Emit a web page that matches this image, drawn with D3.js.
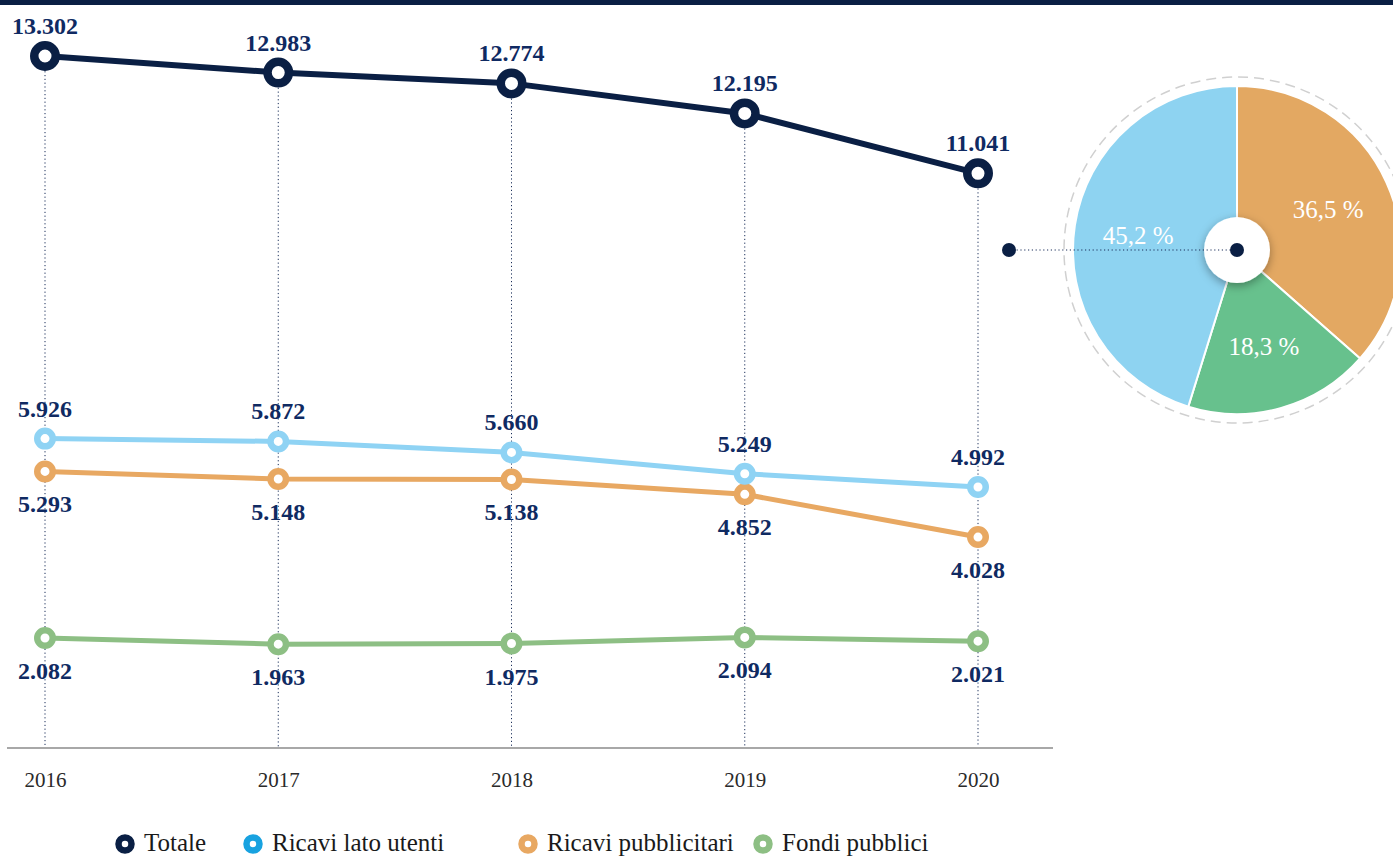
<!DOCTYPE html>
<html>
<head>
<meta charset="utf-8">
<script src="https://cdn.jsdelivr.net/npm/d3@7"></script>
<style>
body { margin: 0; background: #fff; }
svg { display: block; }
</style>
</head>
<body>
<svg id="chart" width="1393" height="857"></svg>
<script>
var years = ["2016", "2017", "2018", "2019", "2020"];
var totale = [13302, 12983, 12774, 12195, 11041];
var ricaviUtenti = [5926, 5872, 5660, 5249, 4992];
var ricaviPubblicita = [5293, 5148, 5138, 4852, 4028];
var fondiPubblici = [2082, 1963, 1975, 2094, 2021];

var pieLabels = ["Ricavi pubblicitari", "Fondi pubblici", "Ricavi lato utenti"];
var pieValues = [36.5, 18.3, 45.2];
var pieColors = ["#e3a862", "#67c18d", "#8ed3f1"];

var navy = "#0a1f44";
var labelColor = "#0f2a62";
var fmt = d3.format(",");
var fmtIt = function(v) { return fmt(v).replace(/,/g, "."); };

var series = [
	{ name: "Totale", values: totale, color: navy, legend: navy, width: 6, r: 10.75, ring: 8.5, labelPos: "above" },
	{ name: "Ricavi lato utenti", values: ricaviUtenti, color: "#8fd3f4", legend: "#18a2e0", width: 5, r: 7.75, ring: 6.5, labelPos: "above" },
	{ name: "Ricavi pubblicitari", values: ricaviPubblicita, color: "#e8a862", legend: "#e8a862", width: 5, r: 7.75, ring: 6.5, labelPos: "below" },
	{ name: "Fondi pubblici", values: fondiPubblici, color: "#8dbf84", legend: "#8dbf84", width: 5, r: 7.75, ring: 6.5, labelPos: "below" }
];

var svg = d3.select("#chart");
var serif = "'Liberation Serif', 'DejaVu Serif', serif";

// top band
svg.append("rect").attr("x", 0).attr("y", 0).attr("width", 1393).attr("height", 5).attr("fill", navy);

var x = d3.scalePoint().domain(years).range([45, 978]);
var y = d3.scaleLinear().domain([0, 13302]).range([746, 56]);

// vertical dotted guides
svg.append("g").selectAll("line")
	.data(years)
	.join("line")
	.attr("x1", function(d) { return x(d); })
	.attr("x2", function(d) { return x(d); })
	.attr("y1", function(d, i) { return y(totale[i]); })
	.attr("y2", 748)
	.attr("stroke", "#1b2f5a")
	.attr("stroke-width", 1)
	.attr("stroke-dasharray", "1.2,2.6");

// x axis line
svg.append("line")
	.attr("x1", 7).attr("x2", 1053)
	.attr("y1", 748).attr("y2", 748)
	.attr("stroke", "#a8a8a8").attr("stroke-width", 2);

var xAxis = svg.append("g")
	.attr("transform", "translate(0,748)")
	.call(d3.axisBottom(x).tickSize(0).tickPadding(0));
xAxis.select(".domain").remove();
xAxis.selectAll("text")
	.attr("dy", 0)
	.attr("y", 39)
	.attr("font-family", serif)
	.attr("font-size", 21)
	.attr("fill", "#2a2a2a");

var line = d3.line()
	.x(function(d, i) { return x(years[i]); })
	.y(function(d) { return y(d); });

// draw bottom series first so Totale is on top
series.slice().reverse().forEach(function(s)
{
	var g = svg.append("g");
	g.append("path")
		.datum(s.values)
		.attr("d", line)
		.attr("fill", "none")
		.attr("stroke", s.color)
		.attr("stroke-width", s.width)
		.attr("stroke-linejoin", "round");

	g.selectAll("circle")
		.data(s.values)
		.join("circle")
		.attr("cx", function(d, i) { return x(years[i]); })
		.attr("cy", function(d) { return y(d); })
		.attr("r", s.r)
		.attr("fill", "#fff")
		.attr("stroke", s.color)
		.attr("stroke-width", s.ring);

	g.selectAll("text")
		.data(s.values)
		.join("text")
		.attr("x", function(d, i) { return x(years[i]); })
		.attr("y", function(d) { return s.labelPos == "above" ? y(d) - 22 : y(d) + 41; })
		.attr("text-anchor", "middle")
		.attr("font-family", serif)
		.attr("font-weight", "bold")
		.attr("font-size", 24)
		.attr("fill", labelColor)
		.text(function(d) { return fmtIt(d); });
});

// pie
var cx = 1237, cy = 250, R = 164;
var pieG = svg.append("g").attr("transform", "translate(" + cx + "," + cy + ")");

var defs = svg.append("defs");
var filt = defs.append("filter").attr("id", "shadow").attr("x", "-50%").attr("y", "-50%").attr("width", "200%").attr("height", "200%");
filt.append("feDropShadow").attr("dx", 0).attr("dy", 3).attr("stdDeviation", 5).attr("flood-color", "#000").attr("flood-opacity", 0.35);

pieG.append("circle")
	.attr("r", R + 9)
	.attr("fill", "none")
	.attr("stroke", "#d0d0d0")
	.attr("stroke-width", 1.5)
	.attr("stroke-dasharray", "10,6");

var pie = d3.pie().sort(null).value(function(d) { return d; });
var arcs = pie(pieValues);
var arc = d3.arc().innerRadius(0).outerRadius(R);

pieG.selectAll("path")
	.data(arcs)
	.join("path")
	.attr("d", arc)
	.attr("fill", function(d, i) { return pieColors[i]; })
	.attr("stroke", "#fff")
	.attr("stroke-width", 2);

var labelArc = d3.arc().innerRadius(R * 0.61).outerRadius(R * 0.61);
pieG.selectAll("text")
	.data(arcs)
	.join("text")
	.attr("transform", function(d) { var c = labelArc.centroid(d); return "translate(" + c[0] + "," + c[1] + ")"; })
	.attr("text-anchor", "middle")
	.attr("dy", "0.35em")
	.attr("font-family", serif)
	.attr("font-size", 25)
	.attr("fill", "#fff")
	.text(function(d) { return d3.format(".1f")(d.data).replace(".", ",") + " %"; });

pieG.append("circle")
	.attr("r", 33)
	.attr("fill", "#fff")
	.attr("filter", "url(#shadow)");

// connector from Totale to pie
svg.append("line")
	.attr("x1", 1009).attr("x2", cx)
	.attr("y1", cy).attr("y2", cy)
	.attr("stroke", "#1b2f5a")
	.attr("stroke-width", 1.2)
	.attr("stroke-dasharray", "1.2,2.6");
svg.append("circle").attr("cx", 1009).attr("cy", cy).attr("r", 7).attr("fill", navy);
svg.append("circle").attr("cx", cx).attr("cy", cy).attr("r", 7).attr("fill", navy);

// legend
var legendX = [125, 253, 528, 763];
var legend = svg.append("g").selectAll("g")
	.data(series)
	.join("g")
	.attr("transform", function(d, i) { return "translate(" + legendX[i] + ",844)"; });
legend.append("circle")
	.attr("r", 6.5)
	.attr("fill", "#fff")
	.attr("stroke", function(d) { return d.legend; })
	.attr("stroke-width", 6.5);
legend.append("text")
	.attr("x", 19)
	.attr("y", 7)
	.attr("font-family", serif)
	.attr("font-size", 25)
	.attr("fill", "#1a1a1a")
	.text(function(d) { return d.name; });
</script>
</body>
</html>
